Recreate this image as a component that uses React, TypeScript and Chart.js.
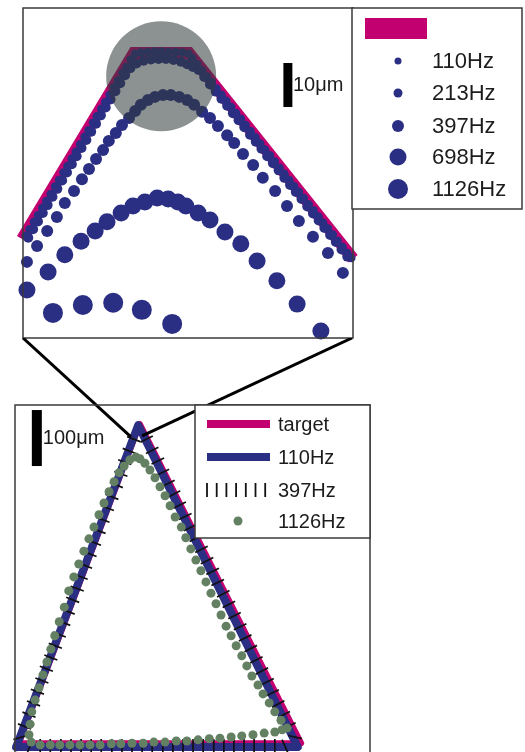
import React, { useEffect, useRef } from 'react';
import { Chart, registerables } from 'chart.js';

Chart.register(...registerables);

type Pt = [number, number];

// ---------------- top panel: close-up of the apex (µm) ----------------
const TOP_LEGEND = ['110Hz', '213Hz', '397Hz', '698Hz', '1126Hz'];
const TOP_SCALE_TEXT = '10μm';
const TOP_SCALE_BAR: Pt[] = [[60.2, 52.5], [60.2, 62.5]];
const TOP_SPOT: Pt[] = [[31.4, 59.5]];
const TOP_TARGET: Pt[] = [[-0.2, 22.5], [25.2, 64.8], [37.7, 64.8], [75.0, 18.0]];
const TOP_110: Pt[] = [
  [0.6, 23.2], [1.5, 24.7], [2.5, 26.4], [3.4, 27.9], [4.4, 29.6], [5.3, 31.1], [6.3, 32.7], [7.3, 34.4],
  [8.2, 35.9], [9.2, 37.6], [10.1, 39.1], [11.1, 40.8], [12.0, 42.3], [13.0, 44.0], [14.0, 45.7], [14.9, 47.2],
  [15.9, 48.9], [16.8, 50.4], [17.8, 52.1], [18.7, 53.6], [19.7, 55.3], [20.7, 57.0], [21.6, 58.5], [22.6, 60.2],
  [23.5, 61.6], [24.5, 63.3], [25.5, 64.6], [26.8, 64.9], [28.3, 65.0], [29.9, 65.1], [31.5, 65.1], [33.1, 65.0],
  [34.7, 65.0], [36.2, 64.9], [37.6, 64.6], [38.5, 63.6], [39.6, 62.2], [40.7, 60.8], [41.8, 59.4], [42.9, 58.1],
  [44.0, 56.7], [45.1, 55.3], [46.2, 53.9], [47.3, 52.5], [48.4, 51.1], [49.5, 49.8], [50.6, 48.4], [51.7, 47.0],
  [52.8, 45.6], [53.9, 44.2], [55.0, 42.8], [56.1, 41.5], [57.2, 40.1], [58.3, 38.7], [59.4, 37.3], [60.5, 35.9],
  [61.6, 34.5], [62.7, 33.2], [63.8, 31.8], [64.9, 30.4], [66.0, 29.0], [67.1, 27.6], [68.2, 26.2], [69.3, 24.9],
  [70.4, 23.5], [71.5, 22.1], [72.6, 20.7], [73.7, 19.3], [74.6, 18.2],
];
const TOP_213: Pt[] = [
  [1.2, 22.8], [2.3, 24.7], [3.4, 26.5], [4.5, 28.4], [5.6, 30.2], [6.7, 32.1], [7.8, 33.9], [8.9, 35.8],
  [10.0, 37.6], [11.1, 39.5], [12.2, 41.3], [13.3, 43.2], [14.4, 45.0], [15.5, 46.9], [16.6, 48.7], [17.7, 50.6],
  [18.8, 52.4], [19.9, 54.2], [21.0, 56.1], [22.1, 57.9], [23.2, 59.7], [24.4, 61.3], [25.8, 62.4], [27.4, 63.0],
  [29.1, 63.3], [30.8, 63.4], [32.5, 63.4], [34.2, 63.2], [35.9, 62.8], [37.3, 62.2], [38.6, 61.6], [39.9, 60.9],
  [41.2, 59.3], [42.5, 57.6], [43.8, 56.0], [45.1, 54.4], [46.4, 52.8], [47.7, 51.1], [49.0, 49.5], [50.3, 47.9],
  [51.6, 46.2], [52.9, 44.6], [54.2, 43.0], [55.5, 41.3], [56.8, 39.7], [58.1, 38.1], [59.4, 36.4], [60.7, 34.8],
  [62.0, 33.2], [63.3, 31.6], [64.6, 29.9], [65.9, 28.3], [67.2, 26.7], [68.5, 25.0], [69.8, 23.4], [71.1, 21.8],
  [72.4, 20.1], [73.7, 18.5],
];
const TOP_397: Pt[] = [
  [0.9, 17.3], [3.2, 20.9], [5.5, 24.3], [7.7, 27.5], [9.5, 30.7], [11.6, 33.4], [13.4, 36.1], [15.0, 38.4],
  [16.6, 40.7], [18.2, 42.7], [19.5, 44.8], [21.1, 46.6], [22.5, 48.4], [24.1, 50.0], [25.5, 51.6], [26.8, 53.0],
  [28.4, 54.1], [30.0, 54.8], [31.8, 55.2], [33.6, 55.2], [35.5, 54.8], [37.3, 54.1], [38.9, 53.0], [40.7, 51.4],
  [42.5, 50.0], [44.3, 48.2], [46.4, 46.1], [48.0, 44.3], [50.0, 41.8], [52.3, 39.3], [54.5, 36.4], [57.3, 33.4],
  [60.0, 30.0], [62.7, 26.6], [65.9, 23.0], [69.3, 19.3], [72.7, 14.8],
];
const TOP_698: Pt[] = [
  [0.9, 10.9], [5.7, 15.0], [9.5, 18.9], [13.2, 22.0], [16.4, 24.3], [19.1, 26.4], [22.3, 28.4], [25.0, 30.0],
  [27.7, 30.9], [30.5, 31.8], [33.0, 31.6], [35.2, 30.9], [37.0, 30.0], [39.8, 28.4], [42.5, 26.8], [45.9, 24.1],
  [49.5, 21.4], [53.2, 17.5], [57.7, 13.0], [62.3, 7.7], [67.7, 1.6],
];
const TOP_1126: Pt[] = [[6.8, 5.7], [13.6, 7.5], [20.5, 8.0], [27.0, 6.4], [33.9, 3.2]];

// ---------------- bottom panel: whole triangle (µm) ----------------
const BOTTOM_LEGEND = ['target', '110Hz', '397Hz', '1126Hz'];
const BOTTOM_SCALE_TEXT = '100μm';
const BOTTOM_SCALE_BAR: Pt[] = [[39, 525], [39, 625]];
const ZOOM_LINK_ENDS: Pt[] = [[207, 577], [227, 579]];
const BOTTOM_TARGET: Pt[] = [[7, 30], [223, 600], [511, 30], [7, 30]];
const BOTTOM_110: Pt[] = [[2, 23], [220, 598], [505, 23], [2, 23]];
const BOTTOM_397: Pt[] = [
  // left side, apex -> lower left
  [212, 573], [204, 552], [196, 532], [189, 511], [181, 491], [173, 470], [165, 450], [157, 429], [150, 409],
  [142, 388], [134, 368], [126, 347], [118, 327], [111, 306], [103, 286], [95, 265], [87, 245], [79, 224],
  [72, 204], [64, 183], [56, 163], [48, 142], [40, 122], [33, 101], [25, 81], [17, 60], [9, 40],
  // base, left -> right
  [27, 25], [45, 25], [63, 25], [82, 25], [100, 25], [118, 25], [136, 25], [154, 25], [173, 25], [191, 25],
  [209, 25], [227, 25], [245, 25], [264, 25], [282, 25], [300, 25], [318, 25], [336, 25], [355, 25], [373, 25],
  [391, 25], [409, 25], [427, 25], [446, 25], [464, 25], [482, 25],
  // right side, lower right -> apex
  [500, 41], [490, 61], [480, 81], [470, 100], [460, 120], [451, 140], [441, 159], [431, 179], [421, 199],
  [411, 218], [402, 238], [392, 258], [382, 278], [372, 297], [362, 317], [353, 337], [343, 356], [333, 376],
  [323, 396], [313, 415], [304, 435], [294, 455], [284, 475], [274, 494], [264, 514], [255, 534], [245, 553],
  [235, 573],
];
const BOTTOM_1126: Pt[] = [
  [216, 541], [205, 536], [195, 525], [186, 513], [177, 497], [168, 479], [159, 459], [150, 438], [141, 416],
  [132, 395], [123, 373], [114, 350], [105, 327], [96, 302], [88, 273], [79, 247], [71, 222], [64, 198],
  [57, 175], [50, 152], [43, 129], [36, 107], [30, 86], [27, 64], [25, 45], [29, 32],
  [45, 27], [63, 27], [80, 27], [98, 27], [116, 27], [134, 27], [152, 27], [172, 29], [189, 29], [209, 30],
  [229, 30], [248, 32], [268, 32], [288, 34], [307, 34], [327, 36], [347, 38], [366, 39], [386, 41], [405, 43],
  [425, 45], [445, 48], [464, 50], [477, 54],
  [486, 57], [475, 71], [464, 86], [454, 102], [443, 118], [434, 134], [423, 150], [414, 168], [405, 186],
  [395, 204], [386, 222], [377, 239], [368, 259], [359, 279], [350, 298], [341, 318], [332, 338], [323, 357],
  [314, 377], [305, 397], [297, 416], [286, 434], [277, 454], [268, 472], [259, 488], [250, 504], [241, 518],
  [232, 530], [223, 538],
];

// ---------------- styles / layout ----------------
const MAGENTA = '#C3006F';
const NAVY = '#2B2F84';
const GREEN = '#638063';
const FRAME = '#3a3a3a';
const INK = '#1c1c1c';
const FONT = '"Liberation Sans", Arial, Helvetica, sans-serif';

const W = 525;
const TOP_H = 345;
const TOP_AREA = { left: 23, top: 8, right: 353, bottom: 338 };
const BOT_OFFSET = 338;
const BOT_H = 432;
const BOT_AREA = { left: 15, top: 67, right: 370, bottom: 422 };

const toXY = (a: Pt[]) => a.map(([x, y]) => ({ x, y }));

function dots(data: Pt[], r: number, color: string, order: number, extra: any = {}) {
  return {
    data: toXY(data),
    showLine: false,
    pointRadius: r,
    pointHoverRadius: r,
    pointBackgroundColor: color,
    pointBorderColor: color,
    pointBorderWidth: 0,
    backgroundColor: color,
    borderColor: color,
    order,
    clip: false as const,
    ...extra,
  };
}

function path(data: Pt[], w: number, color: string, order: number, extra: any = {}) {
  return {
    data: toXY(data),
    showLine: true,
    borderWidth: w,
    borderColor: color,
    backgroundColor: color,
    pointRadius: 0,
    pointHoverRadius: 0,
    fill: false,
    tension: 0,
    order,
    clip: false as const,
    ...extra,
  };
}

const topDecor = {
  id: 'topDecor',
  afterDraw(chart: any) {
    const { ctx, chartArea: a, scales } = chart;
    ctx.save();
    ctx.lineWidth = 1.5;
    ctx.strokeStyle = FRAME;
    ctx.strokeRect(a.left, a.top, a.right - a.left, a.bottom - a.top);

    // scale bar label
    const bx = scales.x.getPixelForValue(TOP_SCALE_BAR[0][0]);
    const by = (scales.y.getPixelForValue(TOP_SCALE_BAR[0][1]) + scales.y.getPixelForValue(TOP_SCALE_BAR[1][1])) / 2;
    ctx.fillStyle = INK;
    ctx.font = `20px ${FONT}`;
    ctx.textBaseline = 'middle';
    ctx.textAlign = 'left';
    ctx.fillText(TOP_SCALE_TEXT, bx + 5, by);

    // legend
    const lx = a.right - 1, ly = a.top, lw = 170, lh = 201;
    ctx.fillStyle = '#fff';
    ctx.fillRect(lx, ly, lw, lh);
    ctx.strokeRect(lx, ly, lw, lh);
    ctx.fillStyle = MAGENTA;
    ctx.fillRect(lx + 13, ly + 10, 62, 21);
    const rows = [53, 85, 118, 149, 181];
    const radii = [3.5, 4.5, 6, 8.5, 10];
    ctx.font = `22px ${FONT}`;
    TOP_LEGEND.forEach((lab, i) => {
      ctx.fillStyle = NAVY;
      ctx.beginPath();
      ctx.arc(lx + 46, ly + rows[i], radii[i], 0, Math.PI * 2);
      ctx.fill();
      ctx.fillStyle = INK;
      ctx.fillText(lab, lx + 80, ly + rows[i] + 1);
    });
    ctx.restore();
  },
};

const bottomDecor = {
  id: 'bottomDecor',
  afterDatasetsDraw(chart: any) {
    const { ctx, scales } = chart;
    ctx.save();
    ctx.strokeStyle = '#000';
    ctx.lineWidth = 3;
    const starts = [TOP_AREA.left, TOP_AREA.right - 1];
    ZOOM_LINK_ENDS.forEach((p, i) => {
      ctx.beginPath();
      ctx.moveTo(starts[i], TOP_AREA.bottom - BOT_OFFSET);
      ctx.lineTo(scales.x.getPixelForValue(p[0]), scales.y.getPixelForValue(p[1]));
      ctx.stroke();
    });
    ctx.restore();
  },
  afterDraw(chart: any) {
    const { ctx, chartArea: a, scales } = chart;
    ctx.save();
    ctx.lineWidth = 1.5;
    ctx.strokeStyle = FRAME;
    ctx.beginPath();
    ctx.moveTo(a.left, chart.height + 5);
    ctx.lineTo(a.left, a.top);
    ctx.lineTo(a.right, a.top);
    ctx.lineTo(a.right, chart.height + 5);
    ctx.stroke();

    // scale label
    const bx = scales.x.getPixelForValue(BOTTOM_SCALE_BAR[0][0]);
    const by = (scales.y.getPixelForValue(BOTTOM_SCALE_BAR[0][1]) + scales.y.getPixelForValue(BOTTOM_SCALE_BAR[1][1])) / 2;
    ctx.fillStyle = INK;
    ctx.font = `20px ${FONT}`;
    ctx.textBaseline = 'middle';
    ctx.textAlign = 'left';
    ctx.fillText(BOTTOM_SCALE_TEXT, bx + 6, by);

    // legend
    const lx = 195, ly = a.top, lw = a.right - lx, lh = 133;
    ctx.fillStyle = '#fff';
    ctx.fillRect(lx, ly, lw, lh);
    ctx.strokeRect(lx, ly, lw, lh);
    const rows = [19, 52, 85, 116];
    const sx0 = lx + 12, sx1 = lx + 75;
    ctx.lineWidth = 8;
    ctx.strokeStyle = MAGENTA;
    ctx.beginPath(); ctx.moveTo(sx0, ly + rows[0]); ctx.lineTo(sx1, ly + rows[0]); ctx.stroke();
    ctx.strokeStyle = NAVY;
    ctx.beginPath(); ctx.moveTo(sx0, ly + rows[1]); ctx.lineTo(sx1, ly + rows[1]); ctx.stroke();
    ctx.lineWidth = 1.8;
    ctx.strokeStyle = '#111';
    for (let k = 0; k < 7; k++) {
      const x = sx0 + k * 9.7;
      ctx.beginPath(); ctx.moveTo(x, ly + rows[2] - 7); ctx.lineTo(x, ly + rows[2] + 7); ctx.stroke();
    }
    ctx.fillStyle = GREEN;
    ctx.beginPath(); ctx.arc(lx + 43, ly + rows[3], 4.5, 0, Math.PI * 2); ctx.fill();
    ctx.fillStyle = INK;
    ctx.font = `20px ${FONT}`;
    BOTTOM_LEGEND.forEach((lab, i) => ctx.fillText(lab, lx + 83, ly + rows[i] + 1));
    ctx.restore();
  },
};

function tickRotation(c: any) {
  const d = c.dataset.data;
  const i = c.dataIndex;
  const a = d[Math.max(0, i - 1)];
  const b = d[Math.min(d.length - 1, i + 1)];
  const xs = c.chart.scales.x;
  const ys = c.chart.scales.y;
  if (!xs || !ys || !a || !b) return 90;
  const dx = xs.getPixelForValue(b.x) - xs.getPixelForValue(a.x);
  const dy = ys.getPixelForValue(b.y) - ys.getPixelForValue(a.y);
  return (Math.atan2(dy, dx) * 180) / Math.PI + 90;
}

function baseOptions(xmax: number, ymax: number, pad: any) {
  return {
    responsive: false,
    maintainAspectRatio: false,
    animation: false as const,
    events: [] as any[],
    layout: { padding: pad, autoPadding: false },
    scales: {
      x: { type: 'linear' as const, min: 0, max: xmax, display: false },
      y: { type: 'linear' as const, min: 0, max: ymax, display: false },
    },
    plugins: { legend: { display: false }, tooltip: { enabled: false } },
  };
}

export default function App() {
  const topRef = useRef<HTMLCanvasElement>(null);
  const botRef = useRef<HTMLCanvasElement>(null);

  useEffect(() => {
    const topChart = new Chart(topRef.current as HTMLCanvasElement, {
      type: 'scatter',
      data: {
        datasets: [
          dots(TOP_SPOT, 55, 'rgba(50,58,58,0.56)', 0),
          path(TOP_SCALE_BAR, 9, '#000', 0, { borderCapStyle: 'butt' }),
          dots(TOP_1126, 10, NAVY, 1),
          dots(TOP_698, 8.5, NAVY, 2),
          dots(TOP_397, 6, NAVY, 3),
          dots(TOP_213, 5, NAVY, 4),
          dots(TOP_110, 4.3, NAVY, 5),
          path(TOP_TARGET, 12, MAGENTA, 6, { borderCapStyle: 'butt', borderJoinStyle: 'miter' }),
        ] as any,
      },
      options: baseOptions(75, 75, {
        left: TOP_AREA.left,
        top: TOP_AREA.top,
        right: W - TOP_AREA.right,
        bottom: TOP_H - TOP_AREA.bottom,
      }) as any,
      plugins: [topDecor],
    });

    const botChart = new Chart(botRef.current as HTMLCanvasElement, {
      type: 'scatter',
      data: {
        datasets: [
          dots(BOTTOM_1126, 4.5, GREEN, 0),
          path(BOTTOM_SCALE_BAR, 10, '#000', 0, { borderCapStyle: 'butt' }),
          {
            data: toXY(BOTTOM_397),
            showLine: false,
            pointStyle: 'line',
            pointRadius: 7,
            pointHoverRadius: 7,
            pointBorderWidth: 1.7,
            pointBorderColor: '#111',
            borderColor: '#111',
            pointRotation: tickRotation,
            order: 1,
            clip: false,
          },
          path(BOTTOM_110, 8, NAVY, 2, { borderJoinStyle: 'round', borderCapStyle: 'round' }),
          path(BOTTOM_TARGET, 6, MAGENTA, 3, { borderJoinStyle: 'round', borderCapStyle: 'round' }),
        ] as any,
      },
      options: baseOptions(634, 634, {
        left: BOT_AREA.left,
        top: BOT_AREA.top,
        right: W - BOT_AREA.right,
        bottom: BOT_H - BOT_AREA.bottom,
      }) as any,
      plugins: [bottomDecor],
    });

    return () => {
      topChart.destroy();
      botChart.destroy();
    };
  }, []);

  return (
    <div
      style={{
        position: 'fixed',
        left: 0,
        top: 0,
        width: W,
        height: 752,
        overflow: 'hidden',
        background: '#fff',
      }}
    >
      <canvas ref={topRef} width={W} height={TOP_H} style={{ position: 'absolute', left: 0, top: 0 }} />
      <canvas ref={botRef} width={W} height={BOT_H} style={{ position: 'absolute', left: 0, top: BOT_OFFSET }} />
    </div>
  );
}
